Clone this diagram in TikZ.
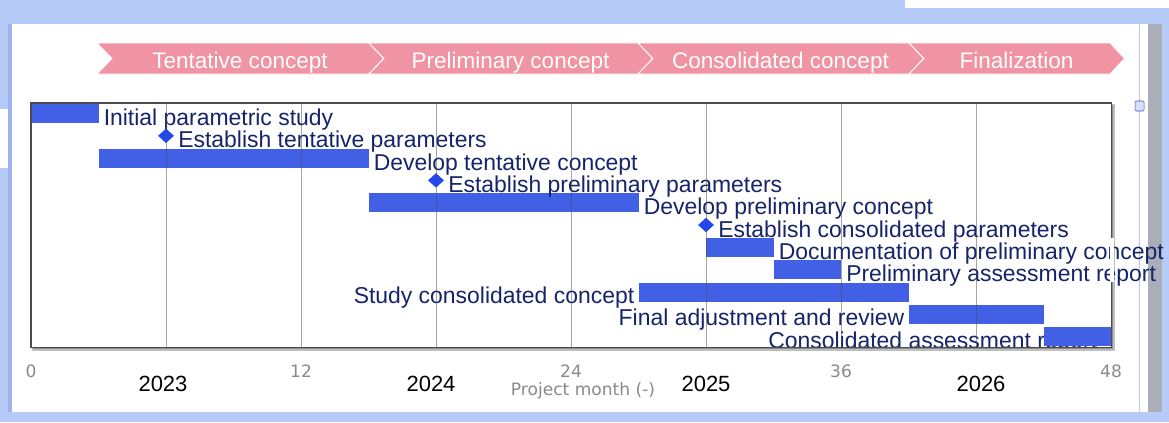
\documentclass[tikz,border=0pt]{standalone}
\usepackage{fontspec}
\setmainfont{Liberation Sans}
\newfontfamily\axisfont{DejaVu Sans}
\usepackage{tikz}
\usetikzlibrary{shapes.geometric,positioning}

\definecolor{framebg}{HTML}{B7CBF9}
\definecolor{frameedge}{HTML}{9CB4EE}
\definecolor{scrollgray}{HTML}{A9AEB9}
\definecolor{chevpink}{HTML}{F093A3}
\definecolor{barblue}{HTML}{4260E6}
\definecolor{msblue}{HTML}{2347F2}
\definecolor{tasknavy}{HTML}{16246A}
\definecolor{axisgray}{HTML}{8A8A8A}

\tikzset{
  chev/.style={fill=chevpink, draw=white, line width=0.6pt},
  chevtext/.style={text=white, anchor=base, inner sep=0, font=\fontsize{16.9}{19}\selectfont},
  bar/.style={fill=barblue, draw=none, inner sep=0, minimum height=14.25pt, anchor=north west},
  mstone/.style={diamond, fill=msblue, inner sep=0, minimum width=12pt, minimum height=11pt},
  tasklabel/.style={text=tasknavy, inner sep=0, font=\fontsize{17.2}{19}\selectfont},
  gridline/.style={draw=black!70, line width=0.6pt, opacity=0.5},
  ticklbl/.style={text=axisgray, font=\axisfont\fontsize{12.8}{14}\selectfont},
  yearlbl/.style={text=black, font=\fontsize{16.5}{18}\selectfont}
}

\begin{document}
\begin{tikzpicture}[x=0.75pt,y=-0.75pt]
  \useasboundingbox (0,0) rectangle (1169,422);
  % window frame
  \fill[framebg] (0,0) rectangle (1169,422);
  \fill[white] (905,0) rectangle (1169,8);
  \fill[white] (0,109) rectangle (10,168);
  \fill[frameedge] (8,24) rectangle (12,412);
  \fill[white] (12,24) rectangle (1148,412);
  \fill[scrollgray] (1148,24) rectangle (1162,412);
  \draw[framebg!80!blue!60, line width=0.7pt] (1139,24) -- (1139,412);
  \draw[fill=framebg!60, draw=blue!40!gray, rounded corners=1pt] (1135,101) rectangle (1144,111);

  % phase chevrons
  \foreach \xl/\xr/\txt/\nm in {97/369/Tentative concept/tent,
                                369/638/Preliminary concept/prel,
                                638/909/Consolidated concept/cons,
                                909/1110/Finalization/fin}{
    \draw[chev] (\xl,43) -- (\xr,43) -- (\xr+14.5,58.5) -- (\xr,74) -- (\xl,74) -- (\xl+15,58.5) -- cycle;
    \node[chevtext] (\nm) at ({(\xl+\xr)/2+7},68) {\txt};
  }

  % chart area
  \fill[black!25] (32,104) rectangle (1115,351);
  \fill[black!45] (33,105) rectangle (1113,349);
  \node[fill=white, inner sep=0, anchor=north west, minimum width=810pt, minimum height=183pt] (chart) at (31,103) {};

  \begin{scope}
    \clip (31,103) rectangle (1169,347);
    % bars with label right
    \foreach \nm/\s/\e/\r/\txt in {init/0/3/1/Initial parametric study,
                                   devt/3/15/3/Develop tentative concept,
                                   devp/15/27/5/Develop preliminary concept,
                                   docp/30/33/7/Documentation of preliminary concept,
                                   prar/33/36/8/Preliminary assessment report}{
      \pgfmathsetmacro\xs{31+22.5*\s}
      \pgfmathsetmacro\xe{31+22.5*\e}
      \pgfmathsetmacro\yt{104+22.3*(\r-1)}
      \node[tasklabel, anchor=base west] (\nm-lbl) at (\xe+5,\yt+21.5) {\txt};
      \node[bar, minimum width={(\e-\s)*16.875pt}] (\nm) at (\xs,\yt) {};
    }
    % bars with label left
    \foreach \nm/\s/\e/\r/\dx/\txt in {stcc/27/39/9/4/Study consolidated concept,
                                       fadj/39/45/10/4/Final adjustment and review,
                                       cass/45/48/11/-54/Consolidated assessment report}{
      \pgfmathsetmacro\xs{31+22.5*\s}
      \pgfmathsetmacro\yt{104+22.3*(\r-1)}
      \node[tasklabel, anchor=base east] (\nm-lbl) at (\xs-\dx,\yt+21) {\txt};
      \node[bar, minimum width={(\e-\s)*16.875pt}] (\nm) at (\xs,\yt) {};
    }
    % milestones
    \foreach \nm/\m/\r/\txt in {estt/6/2/Establish tentative parameters,
                                estp/18/4/Establish preliminary parameters,
                                estc/30/6/Establish consolidated parameters}{
      \pgfmathsetmacro\xm{31+22.5*\m}
      \pgfmathsetmacro\yt{104+22.3*(\r-1)}
      \node[mstone] (\nm) at (\xm,\yt+9.5) {};
      \node[tasklabel, anchor=base west] (\nm-lbl) at (\xm+12,\yt+21.5) {\txt};
    }
  \end{scope}

  % grid every 6 months
  \foreach \k in {1,...,7}
    \draw[gridline] (31+135*\k,103) -- (31+135*\k,347);
  \draw[black!70, line width=1pt] (chart.north west) rectangle (chart.south east);
  \fill[white] (1110,238) rectangle (1113.5,282);

  % axis
  \foreach \k/\v in {0/0,1/12,2/24,3/36,4/48}
    \node[ticklbl] (tick\v) at (31+270*\k,371) {\v};
  \node[ticklbl] (xlabel) at (583,391) {Project month (-)};
  \foreach \x/\yr in {163/2023,431/2024,706/2025,981/2026}
    \node[yearlbl] (yr\yr) at (\x,384) {\yr};
\end{tikzpicture}
\end{document}
